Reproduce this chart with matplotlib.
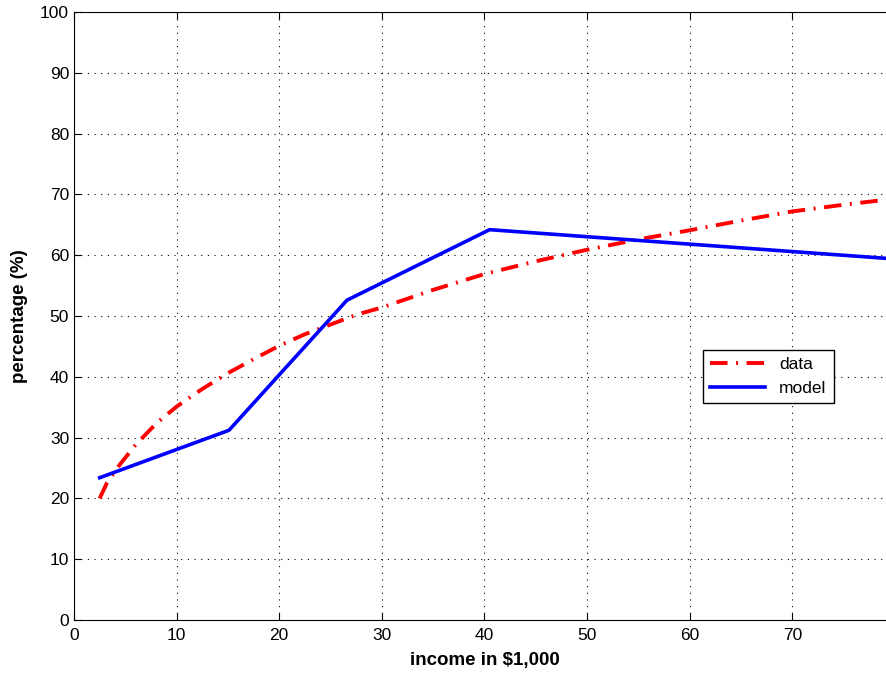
import numpy as np
import matplotlib
matplotlib.use('Agg')
import matplotlib.pyplot as plt

plt.rcParams['font.family'] = ['Liberation Sans', 'DejaVu Sans']

# curva dos dados
data_x = [2.5, 3.2, 4.3, 6, 8, 10, 12.5, 15, 17.5, 20, 22.5, 25, 27.5, 30,
          35, 40, 45, 50, 55, 60, 65, 70, 75, 79]
data_y = [20.0, 22.5, 25.2, 28.8, 32.3, 35.1, 38.0, 40.6, 42.9, 45.1, 47.0, 48.6,
          50.2, 51.4, 54.3, 56.9, 59.0, 60.9, 62.6, 64.1, 65.7, 67.2, 68.3, 69.1]

# modelo
model_x = [2.5, 15.1, 26.6, 40.5, 79]
model_y = [23.4, 31.2, 52.6, 64.2, 59.5]

xticks = [0, 10, 20, 30, 40, 50, 60, 70]
yticks = list(range(0, 101, 10))

fig = plt.figure(figsize=(8.86, 6.75), dpi=100)
ax = fig.add_axes([0.0835, 0.0815, 0.9266, 0.9007])

ax.plot(data_x, data_y, color='red', lw=2.8, dashes=(4.5, 2.2, 0.5, 2.2), label='data')
ax.plot(model_x, model_y, color='blue', lw=2.6, label='model')

ax.set_xlim(0, 80)
ax.set_ylim(0, 100)
ax.set_xticks(xticks)
ax.set_yticks(yticks)
ax.tick_params(direction='in', top=True, right=True, labelsize=12.5, length=5)
ax.tick_params(axis='x', pad=6)
ax.grid(True, color='black', linestyle=(0, (1, 5)), linewidth=0.8)

ax.set_xlabel('income in $1,000', fontsize=13.5, fontweight='bold', labelpad=6)
ax.set_ylabel('percentage (%)', fontsize=13.5, fontweight='bold', labelpad=9)

leg = ax.legend(loc='upper left', bbox_to_anchor=(0.766, 0.444), borderaxespad=0,
                fontsize=12.5, fancybox=False, framealpha=1, edgecolor='black',
                handlelength=3.2)
leg.get_frame().set_linewidth(1)

fig.savefig('out.png', dpi=100)
